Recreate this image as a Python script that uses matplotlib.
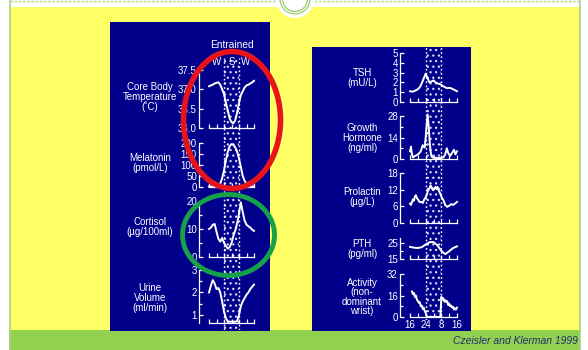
import matplotlib.pyplot as plt
from matplotlib.patches import Rectangle, Ellipse
from matplotlib.lines import Line2D
from matplotlib.ticker import FixedLocator

plt.rcParams['font.family'] = ['Liberation Sans', 'DejaVu Sans']
plt.rcParams['hatch.linewidth'] = 0.9

W, H = 588, 350
NAVY = '#00008b'
YELLOW = '#ffff66'
GREEN = '#92d050'

# clock time, 16:00 one day to 16:00 the next; sleep 24-32
HOURS = list(range(16, 41))
SLEEP = (24, 32)

temp_vals = [37.08, 37.10, 37.12, 37.15, 37.17, 37.18, 37.12, 37.00, 36.88, 36.65,
             36.45, 36.25, 36.15, 36.12, 36.20, 36.40, 36.65, 36.85, 36.95, 37.05,
             37.10, 37.12, 37.15, 37.18, 37.22]

melatonin_vals = [2, 2, 2, 2, 3, 5, 15, 40, 75, 120, 160, 185, 195, 192, 180, 160,
                  130, 90, 50, 28, 15, 8, 4, 3, 3]

cortisol_vals = [10.0, 10.5, 11.5, 11.8, 9.0, 6.5, 5.5, 6.8, 5.0, 4.0, 3.0, 3.5, 5.0,
                 7.5, 9.5, 12.0, 15.5, 19.5, 16.0, 13.0, 11.5, 11.0, 10.5, 9.8, 9.3]

urine_vals = [2.0, 2.3, 2.55, 2.4, 2.15, 2.2, 2.0, 1.6, 1.15, 0.85, 0.72, 0.7, 0.7,
              0.7, 0.7, 0.72, 1.0, 1.4, 1.6, 1.75, 1.9, 2.0, 2.15, 2.25, 2.35]

tsh_vals = [1.1, 1.05, 1.1, 1.2, 1.3, 1.5, 1.9, 2.4, 2.9, 2.4, 2.0, 2.1, 2.2, 2.0,
            1.9, 1.85, 1.75, 1.6, 1.5, 1.4, 1.45, 1.4, 1.3, 1.2, 1.1]

gh_hours = [16, 16.5, 17, 17.5, 18.5, 19.5, 20.5, 21.5, 22.5, 23, 23.5, 24, 24.5, 25,
            25.5, 26, 26.5, 27, 28, 29, 30, 31, 32, 33, 34, 34.8, 35.5, 36.5, 37.5,
            38.5, 39.2, 40]
gh_vals = [5, 8, 3, 1, 2, 2.5, 3.5, 5, 9, 8, 7.5, 14, 22, 29, 22, 12, 5, 1.5, 0.8,
           0.8, 0.6, 0.6, 0.8, 1, 3, 7, 4, 2, 4, 6, 3, 5]

prl_hours = [16, 16.5, 17, 17.5, 18, 18.5, 19, 19.5, 20, 20.5, 21, 22, 22.5, 23, 23.5,
             24, 24.5, 25, 25.5, 26, 26.5, 27, 27.5, 28, 28.5, 29, 29.5, 30, 30.5, 31,
             31.5, 32, 33, 34, 35, 36, 37, 38, 39, 40]
prl_vals = [7, 6.5, 7.5, 8.5, 8, 9.5, 10, 9, 8.5, 8, 7.5, 7.6, 7.2, 8, 8.8, 9.2, 10,
            11.2, 12, 12.5, 13.5, 13, 12, 11.8, 12.5, 13, 12.2, 13, 12, 11.2, 10.5,
            9.5, 8.3, 6.5, 5.8, 6.2, 6.8, 6.5, 7, 7.6]

pth_hours = [16, 18, 20, 22, 24, 26, 28, 30, 32, 34, 36, 38, 40]
pth_vals = [22.5, 22.0, 21.8, 22.3, 24.0, 25.4, 25.5, 23.5, 20.0, 18.0, 19.8, 21.8, 22.8]

act_hours = [17, 17.5, 18, 18.5, 19, 19.5, 20, 20.5, 21, 21.5, 22, 22.5, 23, 23.5, 24,
             24.5, 25, 31.5, 32, 32.5, 33, 33.5, 34, 34.5, 35, 35.5, 36, 36.5, 37,
             37.5, 38, 38.5, 39, 39.5, 40]
act_vals = [19, 17, 18, 15, 16, 13, 12, 10.5, 11, 8, 8.5, 6, 7, 4.5, 3, 0.5, 0, 0, 15,
            13, 14, 11.5, 12.5, 11, 11.8, 9, 10, 8, 8.5, 7, 7.5, 5.5, 6.5, 5.5, 7]


def box(x0, y0, x1, y1):
    # pixel box (origin top-left) -> figure fraction rect
    return [x0 / W, 1 - y1 / H, (x1 - x0) / W, (y1 - y0) / H]


def px(x, y):
    return x / W, 1 - y / H


fig = plt.figure(figsize=(W / 100, H / 100), dpi=100, facecolor='white')

# slide background
fig.add_artist(Rectangle(px(10, 330), 570 / W, 323 / H, transform=fig.transFigure,
                         facecolor=YELLOW, edgecolor='none', zorder=0))
fig.add_artist(Rectangle(px(9, 350), 571 / W, 20 / H, transform=fig.transFigure,
                         facecolor=GREEN, edgecolor='none', zorder=0))
for x in (9.5, 580):
    fig.add_artist(Line2D([x / W, x / W], [0, 1], transform=fig.transFigure,
                          color='#a8d080', lw=1.2, zorder=1))
fig.add_artist(Line2D([9.5 / W, 580 / W], [1 - 0.8 / H] * 2, transform=fig.transFigure,
                      color='#b8dc98', lw=1, ls=(0, (2, 1)), zorder=1))
cx, cy = px(295, -1)
fig.add_artist(Ellipse((cx, cy), 38 / W, 38 / H, transform=fig.transFigure,
                       facecolor='white', edgecolor='none', zorder=2))
for r in (15, 12.5):
    fig.add_artist(Ellipse((cx, cy), 2 * r / W, 2 * r / H, transform=fig.transFigure,
                           facecolor='none', edgecolor='#9ccb6a', lw=0.9, zorder=3))

# dark panels
fig.add_artist(Rectangle(px(110, 331), 160 / W, 309 / H, transform=fig.transFigure,
                         facecolor=NAVY, edgecolor='none', zorder=1))
fig.add_artist(Rectangle(px(312, 331), 159 / W, 284 / H, transform=fig.transFigure,
                         facecolor=NAVY, edgecolor='none', zorder=1))

fig.text(*px(578, 341), 'Czeisler and Klerman 1999', ha='right', va='center',
         fontsize=7.5, style='italic', color='#1f3070')


def sleep_band(x0, x1, y0, y1):
    ax = fig.add_axes(box(x0, y0, x1, y1), zorder=2)
    ax.set_xlim(16, 40)
    ax.set_ylim(0, 1)
    ax.axis('off')
    ax.axvspan(*SLEEP, facecolor='none', edgecolor='#d8d8f0', hatch='...', lw=0)
    for h in SLEEP:
        ax.axvline(h, color='white', lw=1, ls=(0, (1.2, 1.8)))


def panel(x0, x1, ytop, ybot, ylim, major, minor=(), fmt='{:g}', xlabels=None):
    ax = fig.add_axes(box(x0, ytop, x1, ybot), zorder=3)
    ax.set_facecolor('none')
    ax.set_xlim(16, 40)
    ax.set_ylim(*ylim)
    for s in ('top', 'right'):
        ax.spines[s].set_visible(False)
    for s in ('left', 'bottom'):
        ax.spines[s].set_color('white')
        ax.spines[s].set_linewidth(0.9)
    ax.spines['left'].set_position(('outward', 7.2))
    ax.set_xticks(range(16, 41, 4))
    if xlabels:
        ax.set_xticklabels(xlabels)
    else:
        ax.set_xticklabels([])
    ax.yaxis.set_major_locator(FixedLocator(major))
    ax.yaxis.set_minor_locator(FixedLocator(list(minor)))
    ax.set_yticklabels([fmt.format(v) for v in major])
    ax.tick_params(which='both', colors='white', direction='in', width=0.9,
                   labelsize=7, pad=1.5)
    ax.tick_params(which='major', length=2.8)
    ax.tick_params(which='minor', length=2.2)
    ax.tick_params(axis='x', pad=2.5)
    return ax


def label(x, y, s):
    fig.text(*px(x, y), s, ha='center', va='center', fontsize=7, color='white',
             linespacing=0.95, zorder=4)


LINE = dict(color='white', lw=1.4, clip_on=False, solid_joinstyle='round')

# left column: entrained rhythms
sleep_band(209, 254, 58, 330)
fig.text(*px(232, 45), 'Entrained', ha='center', va='center', fontsize=7.3, color='white')
for x, s in ((217, 'W'), (232, 'S'), (246, 'W')):
    fig.text(*px(x, 62), s, ha='center', va='center', fontsize=7, color='white')

ax = panel(209, 254, 70, 128, (36.0, 37.5), [36.0, 36.5, 37.0, 37.5], fmt='{:.1f}')
ax.plot(HOURS, temp_vals, **LINE)
label(150, 97, 'Core Body\nTemperature\n(\u02daC)')

ax = panel(209, 254, 143, 187, (0, 200), [0, 50, 100, 150, 200])
ax.plot(HOURS, melatonin_vals, **LINE)
label(150, 163, 'Melatonin\n(pmol/L)')

ax = panel(209, 254, 201, 257, (0, 20), [0, 10, 20], minor=[5, 15])
ax.plot(HOURS, cortisol_vals, **LINE)
label(150, 227, 'Cortisol\n(\u00b5g/100ml)')

ax = panel(209, 254, 270, 323, (0.64, 3), [1, 2, 3], minor=[1.5, 2.5])
ax.plot(HOURS, urine_vals, **LINE)
label(150, 298, 'Urine\nVolume\n(ml/min)')

# right column
sleep_band(410, 457, 47, 320)

ax = panel(410, 457, 53, 102, (0, 5), [0, 1, 2, 3, 4, 5])
ax.plot(HOURS, tsh_vals, **LINE)
label(362, 78, 'TSH\n(mU/L)')

ax = panel(410, 457, 116, 159, (0, 28), [0, 14, 28], minor=[7, 21])
ax.plot(gh_hours, gh_vals, **LINE)
label(362, 138, 'Growth\nHormone\n(ng/ml)')

ax = panel(410, 457, 173, 223, (0, 18), [0, 6, 12, 18])
ax.plot(prl_hours, prl_vals, **LINE)
label(362, 197, 'Prolactin\n(\u00b5g/L)')

ax = panel(410, 457, 238, 259, (15, 28), [15, 25], minor=[20])
ax.plot(pth_hours, pth_vals, **LINE)
label(362, 249, 'PTH\n(pg/ml)')

ax = panel(410, 457, 274, 317, (0, 32), [0, 16, 32], minor=[8, 24],
           xlabels=['16', '', '24', '', '8', '', '16'])
ax.plot(act_hours, act_vals, **LINE)
label(362, 297, 'Activity\n(non-\ndominant\nwrist)')

# highlight rings
fig.add_artist(Ellipse(px(232, 120), 97 / W, 137 / H, transform=fig.transFigure,
                       facecolor='none', edgecolor='#e8141c', lw=4, zorder=10))
fig.add_artist(Ellipse(px(228.5, 235), 92 / W, 81 / H, transform=fig.transFigure,
                       facecolor='none', edgecolor='#16a04a', lw=3.5, zorder=10))

fig.savefig('out.png', dpi=100, facecolor='white')
